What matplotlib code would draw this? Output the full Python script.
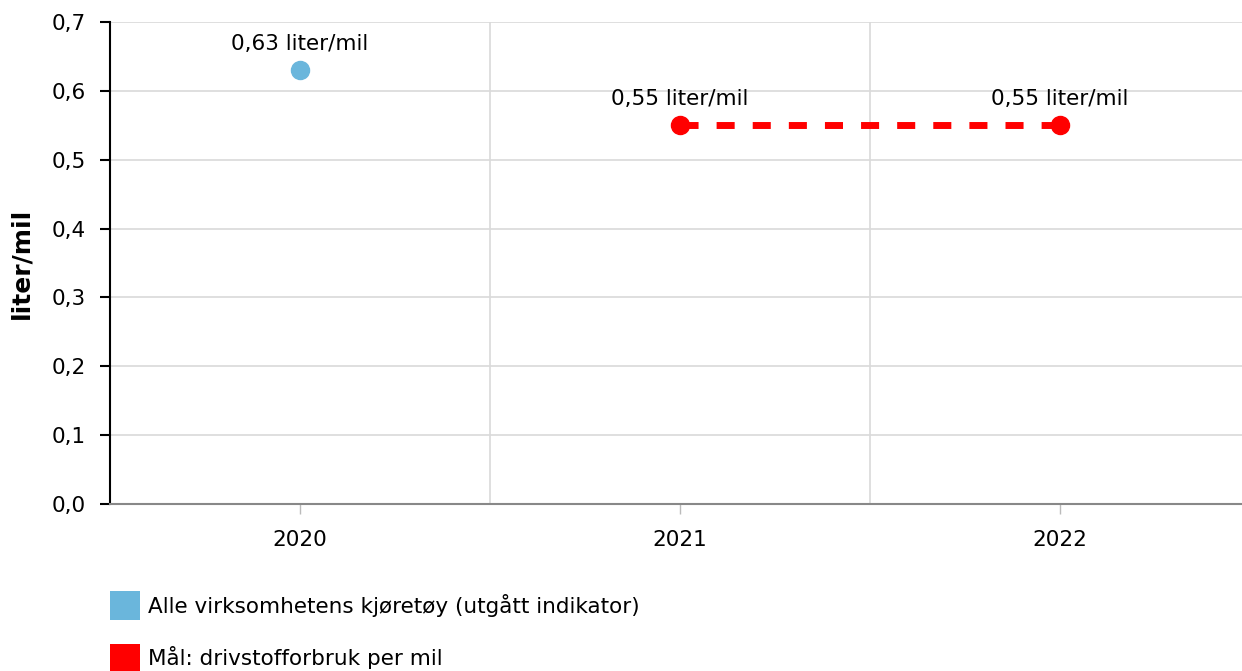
import matplotlib.pyplot as plt
from matplotlib.patches import Patch
from matplotlib.ticker import FuncFormatter, MultipleLocator
import numpy as np

years = ['2020', '2021', '2022']
alle_kjoretoy = [0.63, np.nan, np.nan]
maal = [np.nan, 0.55, 0.55]
serie_navn = ['Alle virksomhetens kjøretøy (utgått indikator)', 'Mål: drivstofforbruk per mil']

blue = '#6ab6dc'
red = '#ff0000'
fs = 15.5

plt.rcParams['font.family'] = ['DejaVu Sans']

fig = plt.figure(figsize=(12.42, 6.71), dpi=100)
ax = fig.add_axes([110 / 1242, 167 / 671, 1132 / 1242, 482 / 671])

x = np.arange(len(years))
ax.plot(x, alle_kjoretoy, 'o', color=blue, markersize=13, zorder=3, clip_on=False)
ax.plot(x, maal, '-', color=red, linewidth=5, dashes=(2.6, 2.6), marker='o',
        markersize=13, zorder=3, clip_on=False)

def kommatall(v):
    return ('%.2f' % v).replace('.', ',') + ' liter/mil'

# dataetiketter over punktene
for serie in [alle_kjoretoy, maal]:
    for xi, v in zip(x, serie):
        if not np.isnan(v):
            ax.annotate(kommatall(v), (xi, v), xytext=(0, 12), textcoords='offset points',
                        ha='center', va='bottom', fontsize=fs)

ax.set_xlim(-0.5, 2.48)
ax.set_ylim(0, 0.7)
ax.set_xticks(x)
ax.set_xticklabels(years, fontsize=fs)
ax.set_xticks([0.5, 1.5], minor=True)
ax.yaxis.set_major_locator(MultipleLocator(0.1))
ax.yaxis.set_major_formatter(FuncFormatter(lambda v, p: ('%.1f' % v).replace('.', ',')))
ax.tick_params(axis='y', labelsize=fs, length=7.5, width=1.5, color='black', pad=10)
ax.tick_params(axis='x', which='major', length=7, width=1, color='#bbbbbb', pad=12)
ax.tick_params(axis='x', which='minor', length=0)

ax.grid(axis='y', color='#d9d9d9', linewidth=1.2)
ax.grid(axis='x', which='minor', color='#d9d9d9', linewidth=1.2)
ax.set_axisbelow(True)

for s in ['top', 'right']:
    ax.spines[s].set_visible(False)
ax.spines['left'].set_linewidth(1.5)
ax.spines['bottom'].set_color('#888888')
ax.spines['bottom'].set_linewidth(1.5)

ax.set_ylabel('liter/mil', fontsize=18, fontweight='bold', labelpad=13)

handles = [Patch(facecolor=blue), Patch(facecolor=red)]
fig.legend(handles, serie_navn, loc='upper left', bbox_to_anchor=(110 / 1242, 1 - 591 / 671),
           frameon=False, fontsize=fs, handlelength=1.4, handleheight=1.7,
           handletextpad=0.37, labelspacing=1.1, borderaxespad=0, borderpad=0)

fig.savefig('out.png', dpi=100)
